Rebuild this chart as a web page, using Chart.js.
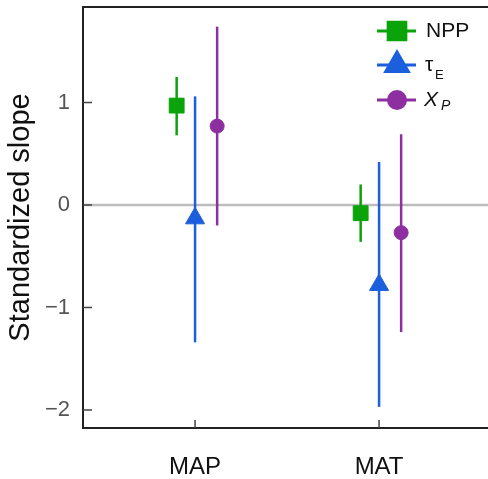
<!DOCTYPE html>
<html>
<head>
<meta charset="utf-8">
<script src="https://cdn.jsdelivr.net/npm/chart.js@4/dist/chart.umd.min.js"></script>
<style>
  html, body { margin: 0; padding: 0; background: #fff; }
  #wrap { width: 488px; height: 479px; }
</style>
</head>
<body>
<div id="wrap"><canvas id="chart"></canvas></div>
<script>
// values
const categories = ['MAP', 'MAT'];
const nppSlope = [0.97, -0.08];
const nppLow = [0.68, -0.36];
const nppHigh = [1.25, 0.20];
const tauSlope = [-0.13, -0.78];
const tauLow = [-1.34, -1.97];
const tauHigh = [1.06, 0.42];
const xpSlope = [0.77, -0.27];
const xpLow = [-0.20, -1.24];
const xpHigh = [1.74, 0.69];
const yTicks = [-2, -1, 0, 1];

const FONT = "'Liberation Sans', Arial, sans-serif";
const dodge = [-0.1, 0, 0.12];
const legendRadius = [12.5, 13, 8.5];

function makePoints(slope, low, high, k) {
    return slope.map((v, i) => ({ x: i + 1 + dodge[k], y: v, lo: low[i], hi: high[i] }));
}

// frame, zero line, inward ticks, error bars, legend
const framePlugin = {
    id: 'frame',
    beforeDatasetsDraw(chart) {
        const { ctx, chartArea: a, scales: { x, y } } = chart;
        ctx.save();
        ctx.strokeStyle = '#bdbdbd';
        ctx.lineWidth = 2.5;
        ctx.beginPath();
        ctx.moveTo(a.left, y.getPixelForValue(0));
        ctx.lineTo(a.right, y.getPixelForValue(0));
        ctx.stroke();
        chart.data.datasets.forEach(ds => {
            ctx.strokeStyle = ds.borderColor;
            ctx.lineWidth = 2.5;
            ds.data.forEach(p => {
                const px = x.getPixelForValue(p.x);
                ctx.beginPath();
                ctx.moveTo(px, y.getPixelForValue(p.lo));
                ctx.lineTo(px, y.getPixelForValue(p.hi));
                ctx.stroke();
            });
        });
        ctx.restore();
    },
    afterDraw(chart) {
        const { ctx, chartArea: a, scales: { x, y } } = chart;
        ctx.save();
        ctx.strokeStyle = '#222';
        ctx.lineWidth = 2;
        ctx.beginPath();
        ctx.moveTo(a.right, a.top);
        ctx.lineTo(a.left, a.top);
        ctx.lineTo(a.left, a.bottom);
        ctx.lineTo(a.right, a.bottom);
        ctx.stroke();
        ctx.strokeStyle = '#444';
        ctx.lineWidth = 1.5;
        yTicks.forEach(v => {
            const py = y.getPixelForValue(v);
            ctx.beginPath();
            ctx.moveTo(a.left, py);
            ctx.lineTo(a.left + 9, py);
            ctx.stroke();
        });
        categories.forEach((c, i) => {
            const px = x.getPixelForValue(i + 1);
            ctx.beginPath();
            ctx.moveTo(px, a.bottom);
            ctx.lineTo(px, a.bottom - 8);
            ctx.stroke();
        });

        // legend
        const lx = 377, rows = [31, 65, 100];
        chart.data.datasets.forEach((ds, k) => {
            const ly = rows[k];
            ctx.strokeStyle = ds.borderColor;
            ctx.lineWidth = 3;
            ctx.beginPath();
            ctx.moveTo(lx, ly);
            ctx.lineTo(lx + 39, ly);
            ctx.stroke();
            ctx.fillStyle = ds.backgroundColor;
            Chart.helpers.drawPoint(ctx, {
                pointStyle: ds.pointStyle,
                radius: legendRadius[k],
                borderWidth: 1,
                rotation: 0
            }, lx + 20, ly);
        });
        ctx.fillStyle = '#111';
        ctx.textBaseline = 'middle';
        ctx.textAlign = 'left';
        ctx.font = '21px ' + FONT;
        ctx.fillText('NPP', 426, rows[0]);
        ctx.fillText('τ', 425, rows[1]);
        ctx.font = '13px ' + FONT;
        ctx.fillText('E', 435, rows[1] + 10);
        ctx.font = 'italic 21px ' + FONT;
        ctx.fillText('X', 424, rows[2]);
        ctx.font = 'italic 14px ' + FONT;
        ctx.fillText('P', 441, rows[2] + 6);
        ctx.restore();
    }
};

new Chart(document.getElementById('chart'), {
    type: 'scatter',
    data: {
        datasets: [
            {
                label: 'NPP',
                data: makePoints(nppSlope, nppLow, nppHigh, 0),
                pointStyle: 'rect',
                pointRadius: 10.5,
                backgroundColor: '#0aa30a',
                borderColor: '#0aa30a',
                borderWidth: 1
            },
            {
                label: 'τE',
                data: makePoints(tauSlope, tauLow, tauHigh, 1),
                pointStyle: 'triangle',
                pointRadius: 11,
                backgroundColor: '#1c5fdc',
                borderColor: '#1c5fdc',
                borderWidth: 1
            },
            {
                label: 'XP',
                data: makePoints(xpSlope, xpLow, xpHigh, 2),
                pointStyle: 'circle',
                pointRadius: 7,
                backgroundColor: '#8d2fa0',
                borderColor: '#8d2fa0',
                borderWidth: 1
            }
        ]
    },
    options: {
        responsive: true,
        maintainAspectRatio: false,
        animation: false,
        events: [],
        layout: { autoPadding: false, padding: { top: 7, right: 0, left: 0, bottom: 0 } },
        plugins: { legend: { display: false }, tooltip: { enabled: false } },
        scales: {
            x: {
                type: 'linear',
                min: 0.391,
                max: 2.592,
                grid: { display: false, drawTicks: false },
                border: { display: false },
                afterBuildTicks: s => { s.ticks = categories.map((c, i) => ({ value: i + 1 })); },
                afterFit: s => { s.height = 51; s.paddingLeft = 0; s.paddingRight = 0; },
                ticks: {
                    padding: 25,
                    color: '#111',
                    font: { family: FONT, size: 24 },
                    callback: v => categories[v - 1]
                }
            },
            y: {
                min: -2.176,
                max: 1.932,
                grid: { display: false, drawTicks: false },
                border: { display: false },
                afterBuildTicks: s => { s.ticks = yTicks.map(v => ({ value: v })); },
                afterFit: s => { s.width = 83; s.paddingTop = 0; s.paddingBottom = 0; },
                ticks: {
                    padding: 13,
                    color: '#555',
                    font: { family: FONT, size: 22 },
                    callback: v => String(v).replace('-', '\u2212')
                },
                title: {
                    display: true,
                    text: 'Standardized slope',
                    color: '#111',
                    font: { family: FONT, size: 29 },
                    padding: { top: 4, bottom: 0 }
                }
            }
        }
    },
    plugins: [framePlugin]
});
</script>
</body>
</html>
